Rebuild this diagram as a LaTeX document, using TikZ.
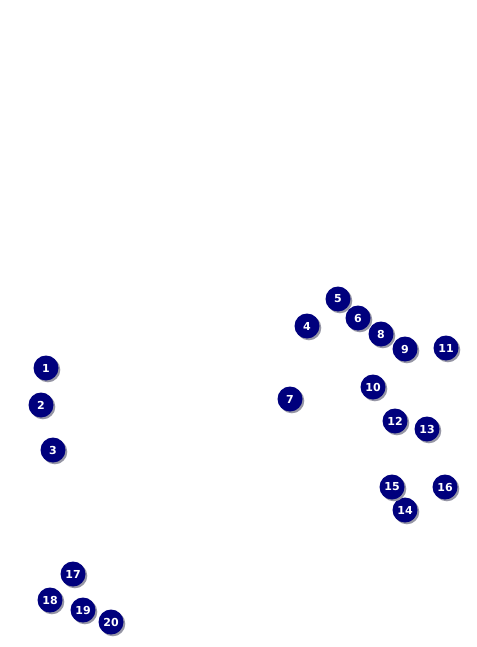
\documentclass[tikz,border=0pt]{standalone}
\usepackage{fontspec}
\setmainfont{DejaVu Sans}
\usetikzlibrary{shadows}
\definecolor{mnavy}{RGB}{0,0,125}
\definecolor{mshade}{RGB}{150,150,165}

\tikzset{
marker/.style={circle, fill=mnavy, text=white, inner sep=0pt, minimum size=25pt,
  font=\bfseries\fontsize{11}{12}\selectfont,
  drop shadow={shadow xshift=1.8pt, shadow yshift=-1.8pt, fill=mshade, opacity=1}},
}

\begin{document}
\begin{tikzpicture}[x=1pt,y=-1pt]

\useasboundingbox (0,0) rectangle (476,647);

%markers:
\foreach \n/\px/\py in {1/46/368, 2/41/405, 3/53/450, 4/307/326, 5/338/299,
  6/358/318, 7/290/399, 8/381/334, 9/405/349, 10/373/387, 11/446/348,
  12/395/421, 13/427/429, 14/405/510, 15/392/487, 16/445/487,
  17/73/574, 18/50/600, 19/83/610, 20/111/622}
  \node[marker] (m\n) at (\px,\py) {\n};

\end{tikzpicture}
\end{document}
